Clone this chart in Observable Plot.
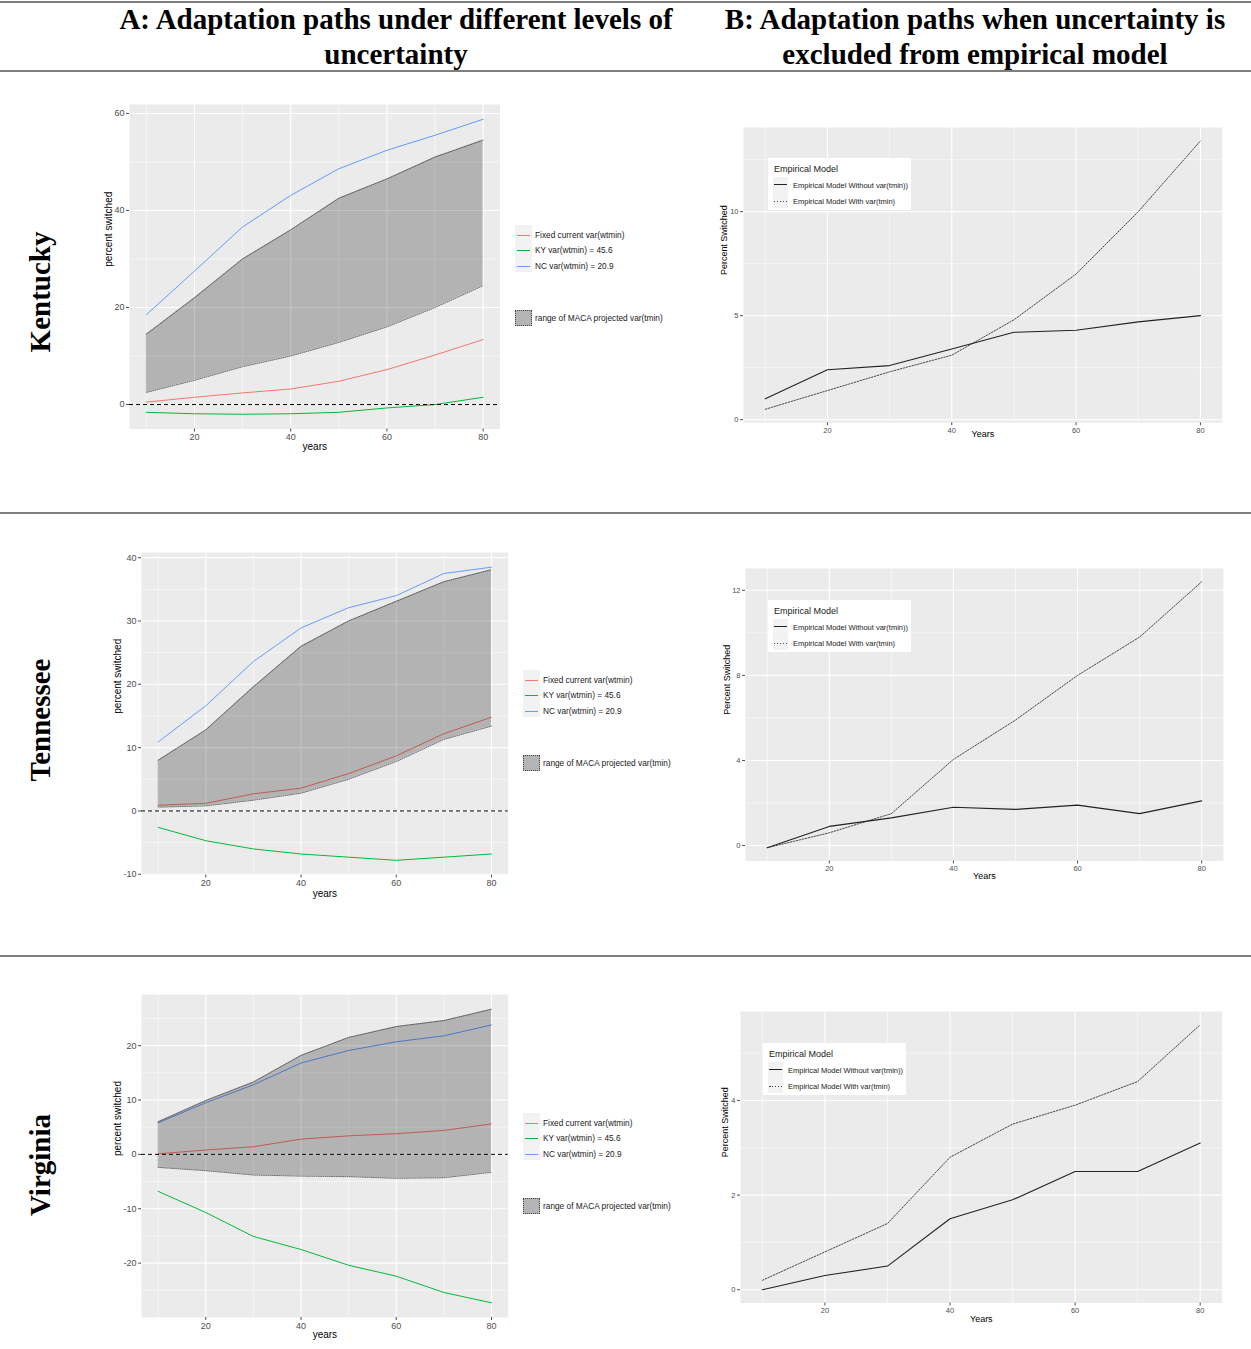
<!DOCTYPE html>
<html><head><meta charset="utf-8">
<script src="https://cdn.jsdelivr.net/npm/d3@7"></script>
<script src="https://cdn.jsdelivr.net/npm/@observablehq/plot@0.6"></script>
<style>
body{margin:0;background:#fff;}
#page{position:relative;width:1251px;height:1349px;overflow:hidden;background:#fff;font-family:"Liberation Sans",Arial,sans-serif;color:#1a1a1a;}
.rule{position:absolute;left:0;width:1251px;background:#7f7f7f;}
.hdr{position:absolute;font-family:"Liberation Serif","Times New Roman",serif;font-weight:bold;font-size:29px;line-height:35px;text-align:center;white-space:nowrap;color:#000;}
.rowlab{position:absolute;font-family:"Liberation Serif","Times New Roman",serif;font-weight:bold;font-size:29px;white-space:nowrap;color:#000;transform:translate(-50%,-50%) rotate(-90deg);}
.abs{position:absolute;white-space:nowrap;}
</style></head><body><div id="page"></div><script>
// ---------------- data ----------------
const years = [10, 20, 30, 40, 50, 60, 70, 80];
const states = ["Kentucky", "Tennessee", "Virginia"];
const headerA = ["A: Adaptation paths under different levels of", "uncertainty"];
const headerB = ["B: Adaptation paths when uncertainty is", "excluded from empirical model"];
const seriesA = ["Fixed current var(wtmin)", "KY var(wtmin) = 45.6", "NC var(wtmin) = 20.9"];
const ribbonLabel = "range of MACA projected var(tmin)";
const seriesB = ["Empirical Model Without var(tmin))", "Empirical Model With var(tmin)"];
const legendBTitle = "Empirical Model";
const titlesA = ["years", "percent switched"];
const titlesB = ["Years", "Percent Switched"];
const xMajor = [20, 40, 60, 80];
const xMinor = [10, 30, 50, 70];

// Kentucky – panel A
const kyFixed = [0.5, 1.5, 2.4, 3.2, 4.8, 7.2, 10.2, 13.4];
const kyKY    = [-1.6, -1.9, -2.0, -1.9, -1.6, -0.7, 0.0, 1.5];
const kyNC    = [18.5, 27.5, 36.6, 43.1, 48.6, 52.4, 55.5, 58.8];
const kyLow   = [2.5, 5.0, 7.8, 10.0, 12.8, 16.0, 20.0, 24.5];
const kyHigh  = [14.5, 22.0, 30.0, 36.0, 42.5, 46.5, 51.0, 54.5];
// Tennessee – panel A
const tnFixed = [0.9, 1.2, 2.7, 3.6, 5.9, 8.7, 12.2, 14.8];
const tnKY    = [-2.6, -4.7, -6.0, -6.8, -7.3, -7.8, -7.3, -6.8];
const tnNC    = [10.9, 16.6, 23.6, 28.9, 32.1, 34.0, 37.5, 38.5];
const tnLow   = [0.6, 0.8, 1.7, 2.8, 5.0, 7.8, 11.3, 13.4];
const tnHigh  = [8.0, 12.8, 19.6, 26.0, 30.0, 33.1, 36.2, 38.1];
// Virginia – panel A
const vaFixed = [0.1, 0.8, 1.4, 2.8, 3.4, 3.8, 4.4, 5.6];
const vaKY    = [-6.8, -10.7, -15.1, -17.5, -20.4, -22.4, -25.4, -27.3];
const vaNC    = [5.8, 9.5, 12.8, 16.8, 19.1, 20.7, 21.8, 23.8];
const vaLow   = [-2.4, -3.0, -3.8, -4.0, -4.1, -4.4, -4.3, -3.3];
const vaHigh  = [6.0, 9.9, 13.3, 18.2, 21.5, 23.5, 24.6, 26.7];
// Panel B
const kyWithout = [1.0, 2.4, 2.6, 3.4, 4.2, 4.3, 4.7, 5.0];
const kyWith    = [0.5, 1.4, 2.3, 3.1, 4.8, 7.0, 10.0, 13.4];
const tnWithout = [-0.1, 0.9, 1.3, 1.8, 1.7, 1.9, 1.5, 2.1];
const tnWith    = [-0.1, 0.6, 1.5, 4.05, 5.9, 8.0, 9.8, 12.4];
const vaWithout = [0.0, 0.3, 0.5, 1.5, 1.9, 2.5, 2.5, 3.1];
const vaWith    = [0.2, 0.8, 1.4, 2.8, 3.5, 3.9, 4.4, 5.6];
// tick values
const kyTicksA = [0, 20, 40, 60], tnTicksA = [-10, 0, 10, 20, 30, 40], vaTicksA = [-20, -10, 0, 10, 20];
const kyTicksB = [0, 5, 10], tnTicksB = [0, 4, 8, 12], vaTicksB = [0, 2, 4];

// ---------------- helpers ----------------
const page = document.getElementById("page");
const colorsA = ["#F8766D", "#00BA38", "#619CFF"];
const pad = e => { const d = (e[1] - e[0]) * 0.05; return [e[0] - d, e[1] + d]; };
const xDomain = pad(d3.extent(years));
const minorOf = t => t.slice(1).map((v, i) => (v + t[i]) / 2).concat([t[0] - (t[1] - t[0]) / 2, t[t.length - 1] + (t[1] - t[0]) / 2]);
const fmt = d => String(d);

function put(el, left, top) { el.style.position = "absolute"; el.style.left = Math.round(left) + "px"; el.style.top = Math.round(top) + "px"; page.appendChild(el); return el; }
function div(cls, html, css) { const d = document.createElement("div"); if (cls) d.className = cls; if (html != null) d.innerHTML = html; if (css) Object.assign(d.style, css); return d; }

function panel(rect, yDom, yMajor, content, o) {
  const ml = 45, mr = 5, mt = 5, mb = 35;
  const W = rect.R - rect.L + ml + mr, H = rect.B - rect.T + mt + mb;
  const yMinor = minorOf(yMajor).filter(v => v > yDom[0] && v < yDom[1]);
  const grid = {stroke: "#fff", strokeOpacity: 1};
  const svg = Plot.plot({
    width: W, height: H, marginLeft: ml, marginRight: mr, marginTop: mt, marginBottom: mb,
    x: {domain: xDomain}, y: {domain: yDom},
    color: {domain: seriesA, range: colorsA},
    style: {fontFamily: "'Liberation Sans', Arial, sans-serif", fontSize: o.tick + "px", background: "transparent", overflow: "visible"},
    marks: [
      Plot.frame({fill: "#ebebeb", stroke: "none"}),
      Plot.gridX({...grid, ticks: xMinor, strokeWidth: 0.55}),
      Plot.gridY({...grid, ticks: yMinor, strokeWidth: 0.55}),
      Plot.gridX({...grid, ticks: xMajor, strokeWidth: 1.1}),
      Plot.gridY({...grid, ticks: yMajor, strokeWidth: 1.1}),
      ...content,
      Plot.axisX({ticks: xMajor, tickFormat: fmt, tickSize: 3, tickPadding: 2, fontSize: o.tick, color: "#4d4d4d", label: null}),
      Plot.axisY({ticks: yMajor, tickFormat: fmt, tickSize: 3, tickPadding: 2, fontSize: o.tick, color: "#4d4d4d", label: null}),
      Plot.text([o.titles[0]], {text: d => d, frameAnchor: "bottom", dy: o.xdy, fontSize: o.title, fill: "#000"}),
      Plot.text([o.titles[1]], {text: d => d, frameAnchor: "left", dx: o.ydx, rotate: -90, fontSize: o.title, fill: "#000"})
    ]
  });
  svg.style.position = "absolute";
  svg.style.left = (rect.L - ml) + "px";
  svg.style.top = (rect.T - mt) + "px";
  page.appendChild(svg);
}

function chartA(fixed, ky, nc, low, high, yTicks, rect, o, leg) {
  const table = [];
  [fixed, ky, nc].forEach((arr, s) => arr.forEach((v, i) => table.push({year: years[i], series: seriesA[s], v})));
  const rib = years.map((y, i) => ({year: y, low: low[i], high: high[i]}));
  const yDom = pad(d3.extent([...fixed, ...ky, ...nc, ...low, ...high, 0]));
  panel(rect, yDom, yTicks, [
    Plot.line(table, {x: "year", y: "v", z: "series", stroke: "series", strokeWidth: 1}),
    Plot.areaY(rib, {x: "year", y1: "low", y2: "high", fill: "#000", fillOpacity: 0.235}),
    Plot.line(rib, {x: "year", y: "low", stroke: "#333", strokeWidth: 0.7, strokeDasharray: "1,1.2"}),
    Plot.line(rib, {x: "year", y: "high", stroke: "#333", strokeWidth: 0.7, strokeDasharray: "1,1.2"}),
    Plot.ruleY([0], {stroke: "#000", strokeWidth: 1, strokeDasharray: "4,3"})
  ], {...o, tick: 9, title: 10, titles: titlesA});
  // legend
  const [x0, y0] = leg;
  put(div(null, "", {width: "17px", height: "47px", background: "#f2f2f2"}), x0, y0);
  const rows = [9.5, 25, 40.5];
  seriesA.forEach((s, i) => {
    put(div(null, "", {width: "13px", height: "1px", background: colorsA[i]}), x0 + 2, y0 + rows[i]);
    put(div("abs", s, {fontSize: "8.3px", lineHeight: "10px", transform: "translateY(-50%)"}), x0 + 20, y0 + rows[i]);
  });
  put(div(null, "", {width: "17px", height: "16px", background: "#b4b4b4", border: "1px dotted #444", boxSizing: "border-box"}), x0, y0 + 84.5);
  put(div("abs", ribbonLabel, {fontSize: "8.3px", lineHeight: "10px", transform: "translateY(-50%)"}), x0 + 20, y0 + 92.5);
}

function chartB(without, withv, yTicks, rect, o, leg) {
  const a = years.map((y, i) => ({year: y, v: without[i]}));
  const b = years.map((y, i) => ({year: y, v: withv[i]}));
  const yDom = pad(d3.extent([...without, ...withv]));
  panel(rect, yDom, yTicks, [
    Plot.line(b, {x: "year", y: "v", stroke: "#333", strokeWidth: 0.9, strokeDasharray: "1.5,1.5"}),
    Plot.line(a, {x: "year", y: "v", stroke: "#222", strokeWidth: 1.1})
  ], {...o, tick: 7.5, title: 9, titles: titlesB});
  const [x0, y0] = leg;
  put(div(null, "", {width: "143px", height: "52px", background: "#fff"}), x0, y0);
  put(div("abs", legendBTitle, {fontSize: "9px", lineHeight: "11px", transform: "translateY(-50%)"}), x0 + 6, y0 + 10.5);
  put(div(null, "", {width: "15px", height: "31px", background: "#f2f2f2"}), x0 + 5, y0 + 18.5);
  put(div(null, "", {width: "13px", height: "1px", background: "#222"}), x0 + 6, y0 + 26);
  put(div(null, "", {width: "13px", height: "1px", background: "repeating-linear-gradient(90deg,#444 0 1.5px,transparent 1.5px 3px)"}), x0 + 6, y0 + 42.5);
  [26.5, 43].forEach((r, i) => put(div("abs", seriesB[i], {fontSize: "7.5px", lineHeight: "9px", transform: "translateY(-50%)"}), x0 + 24.5, y0 + r));
}

// ---------------- layout ----------------
put(div("rule", "", {height: "2px"}), 0, 1);
put(div("rule", "", {height: "2px"}), 0, 70);
put(div("rule", "", {height: "1.5px"}), 0, 512);
put(div("rule", "", {height: "1.5px"}), 0, 955);
put(div("hdr", headerA.join("<br>"), {width: "600px"}), 96, 2);
put(div("hdr", headerB.join("<br>"), {width: "600px"}), 675, 2);
put(div("rowlab", states[0]), 40, 292);
put(div("rowlab", states[1]), 40, 720);
put(div("rowlab", states[2]), 40, 1165);

chartA(kyFixed, kyKY, kyNC, kyLow, kyHigh, kyTicksA, {L: 129, T: 103.5, R: 499.5, B: 428}, {xdy: 21, ydx: -21}, [515, 225]);
chartA(tnFixed, tnKY, tnNC, tnLow, tnHigh, tnTicksA, {L: 140.7, T: 551.5, R: 507.4, B: 874}, {xdy: 22, ydx: -24}, [523, 670]);
chartA(vaFixed, vaKY, vaNC, vaLow, vaHigh, vaTicksA, {L: 140.7, T: 993.5, R: 507.4, B: 1316.5}, {xdy: 21, ydx: -24}, [523, 1113]);

chartB(kyWithout, kyWith, kyTicksB, {L: 743.1, T: 126.5, R: 1221.8, B: 421.7}, {xdy: 14, ydx: -19}, [768, 158]);
chartB(tnWithout, tnWith, tnTicksB, {L: 744.5, T: 567.5, R: 1222.4, B: 860}, {xdy: 18, ydx: -18}, [768, 600]);
chartB(vaWithout, vaWith, vaTicksB, {L: 739.6, T: 1011, R: 1221.2, B: 1302.5}, {xdy: 19, ydx: -15}, [763, 1043]);
</script></body></html>
